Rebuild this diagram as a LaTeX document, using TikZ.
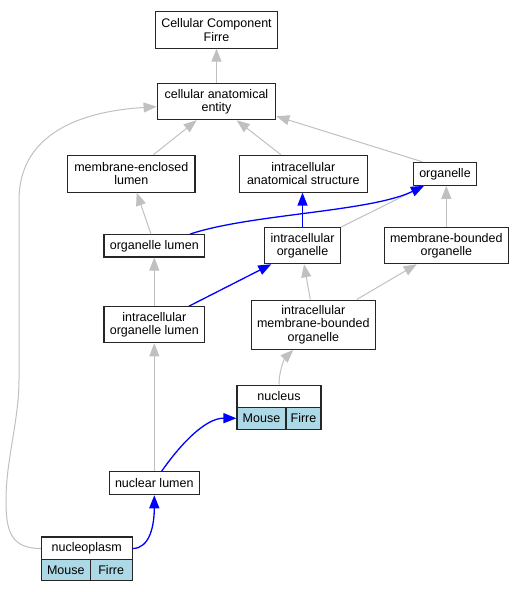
\documentclass[tikz,border=0pt]{standalone}
\usepackage{fontspec}
\setmainfont{Liberation Sans}
\usetikzlibrary{arrows.meta}
\definecolor{edgegray}{RGB}{192,192,192}
\definecolor{cellblue}{RGB}{173,216,230}
\tikzset{
  box/.style={draw=black!85, line width=1.1pt, fill=white, inner sep=0pt, align=center,
    font=\fontsize{12.5}{13.6}\selectfont},
  cell/.style={box, fill=cellblue},
  gedge/.style={draw=edgegray, line width=1pt, -{Triangle[length=13pt,width=10pt]}, color=edgegray},
  bedge/.style={draw=blue, line width=1.3pt, -{Triangle[length=13pt,width=10pt]}, color=blue},
}
\begin{document}
\begin{tikzpicture}[x=1pt,y=-1pt]
\useasboundingbox (0,0) rectangle (524,592);
% nodes
\node[box, minimum width=122.6pt, minimum height=36.3pt] (ccf) at (216.5,30) {Cellular Component\\Firre};
\node[box, minimum width=118.7pt, minimum height=36pt] (cae) at (216.5,101.7) {cellular anatomical\\entity};
\node[box, minimum width=127.3pt, minimum height=36.7pt] (mel) at (131.3,173.7) {membrane-enclosed\\lumen};
\node[box, minimum width=128pt, minimum height=36.7pt] (ias) at (303.3,173.7) {intracellular\\anatomical structure};
\node[box, minimum width=62.6pt, minimum height=23pt] (org) at (445,173.8) {organelle};
\node[box, minimum width=100.7pt, minimum height=22.3pt] (ol) at (154.3,245.8) {organelle lumen};
\node[box, minimum width=75.7pt, minimum height=36pt] (io) at (302.5,245.7) {intracellular\\organelle};
\node[box, minimum width=124pt, minimum height=36pt] (mbo) at (446.3,245.7) {membrane-bounded\\organelle};
\node[box, minimum width=100.7pt, minimum height=36pt] (iol) at (154.3,324.7) {intracellular\\organelle lumen};
\node[box, minimum width=124pt, minimum height=49.3pt] (imbo) at (313.3,324.7) {intracellular\\membrane-bounded\\organelle};
\node[box, minimum width=84pt, minimum height=22.3pt] (nuc) at (279,396.2) {nucleus};
\node[cell, minimum width=49pt, minimum height=22pt] (nucM) at (261.5,418.3) {Mouse};
\node[cell, minimum width=35pt, minimum height=22pt] (nucF) at (303.5,418.3) {Firre};
\node[box, minimum width=90pt, minimum height=23pt] (nl) at (154.3,483.2) {nuclear lumen};
\node[box, minimum width=90.7pt, minimum height=23pt] (np) at (86.7,548.5) {nucleoplasm};
\node[cell, minimum width=49pt, minimum height=21.3pt] (npM) at (65.8,570.2) {Mouse};
\node[cell, minimum width=41.7pt, minimum height=21.3pt] (npF) at (111.2,570.2) {Firre};
% gray edges
\draw[gedge] (cae.north) -- (ccf.south);
\draw[gedge] ([xshift=22pt]mel.north) -- ([xshift=-19.8pt]cae.south);
\draw[gedge] ([xshift=-22.3pt]ias.north) -- ([xshift=20.2pt]cae.south);
\draw[gedge] ([xshift=-22.7pt]org.north) -- ([yshift=4pt]cae.south east);
\draw[gedge] (io.north east) -- ([xshift=-21pt]org.south);
\draw[gedge] (mbo.north) -- (mbo.north |- org.south);
\draw[gedge] ([xshift=-3.3pt]ol.north) -- ([xshift=5.4pt]mel.south);
\draw[gedge] (iol.north) -- (ol.south);
\draw[gedge] ([xshift=-3pt]imbo.north) -- ([xshift=1.5pt]io.south);
\draw[gedge] ([xshift=43.4pt]imbo.north) -- ([xshift=-29.6pt]mbo.south);
\draw[gedge] (nuc.north) .. controls (279,370) and (285,358) .. ([xshift=-20pt]imbo.south);
\draw[gedge] (nl.north) -- (iol.south);
\draw[gedge] (np.west) .. controls (10,548.5) and (6,530) .. (6,500)
  .. controls (6,460) and (19,420) .. (19,380) -- (19,200)
  .. controls (19,140) and (70,112) .. ([yshift=-5pt]cae.west);
% blue edges
\draw[bedge] ([xshift=35.7pt]ol.north) .. controls (250,214) and (370,212) .. ([xshift=-21pt]org.south);
\draw[bedge] (io.north) -- (io.north |- ias.south);
\draw[bedge] ([xshift=34.7pt]iol.north) -- ([xshift=-31.2pt]io.south);
\draw[bedge] ([xshift=7.4pt]nl.north) .. controls (180,445) and (205,418) .. (nucM.west);
\draw[bedge] (np.east) .. controls (150,548.5) and (154.3,525) .. (nl.south);
\end{tikzpicture}
\end{document}
